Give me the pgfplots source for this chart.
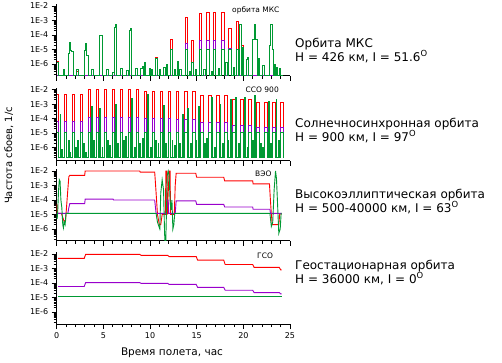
\documentclass[border=0pt]{standalone}
\usepackage{fontspec}
\setmainfont{DejaVu Sans}
\usepackage{pgfplots}
\pgfplotsset{compat=1.18}
\definecolor{cred}{RGB}{255,0,0}
\definecolor{cpur}{RGB}{153,0,204}
\definecolor{cgrn}{RGB}{0,153,51}
\pgfplotsset{
 mypanel/.style={
  scale only axis, width=233.3bp, height=72bp,
  anchor=south west,
  xmin=0, xmax=25, ymin=1.5e-7, ymax=1.38e-2,
  axis x line*=bottom, axis y line*=left,
  axis line style={line width=1bp,-},
  tick align=outside,
  major tick length=5bp, minor tick length=3bp,
  every tick/.style={black, line width=0.8bp},
  xtick={0,5,10,15,20,25},
  minor xtick={1,2,3,4,6,7,8,9,11,12,13,14,16,17,18,19,21,22,23,24},
  xticklabels={},
  ytick={1e-6,1e-5,1e-4,1e-3,1e-2},
  yticklabels={\mbox{1E-6},\mbox{1E-5},\mbox{1E-4},\mbox{1E-3},\mbox{1E-2}},
  minor ytick={2e-7,3e-7,4e-7,5e-7,6e-7,7e-7,8e-7,9e-7,
   2e-6,3e-6,4e-6,5e-6,6e-6,7e-6,8e-6,9e-6,
   2e-5,3e-5,4e-5,5e-5,6e-5,7e-5,8e-5,9e-5,
   2e-4,3e-4,4e-4,5e-4,6e-4,7e-4,8e-4,9e-4,
   2e-3,3e-3,4e-3,5e-3,6e-3,7e-3,8e-3,9e-3},
  tick label style={font=\fontsize{8bp}{9bp}\selectfont},
  every axis plot/.append style={line width=0.9bp},
 }
}
\begin{document}
\begin{tikzpicture}
\fill[white] (0,0) rectangle (502bp,363bp);
\path[use as bounding box] (0,0) rectangle (502bp,363bp);
% ---------- Panel 1: ISS ----------
\begin{axis}[ymode=log, mypanel, at={(56.7bp,287bp)}]
\addplot[cred, const plot] coordinates {(0,1.4e-6)(0.15,1.7e-7)(2.15,3e-7)(2.3,1.7e-7)(10.6,3e-6)(10.78,1.7e-7)(12.15,5e-5)(12.38,1.7e-7)(12.9,1.5e-6)(13.05,1.7e-7)(13.8,1.6e-3)(14.05,1.7e-7)(14.45,4e-5)(14.62,1.7e-7)(15.3,3e-3)(15.55,1.7e-7)(16.1,3.5e-3)(16.35,1.7e-7)(16.8,3.4e-3)(17.05,1.7e-7)(17.7,3.5e-3)(17.95,1.7e-7)(18.45,2.9e-4)(18.7,1.7e-7)(19.25,9e-4)(19.5,1.7e-7)(19.85,2e-5)(20.05,1.7e-7)(24.3,1.7e-7)};
\addplot[cpur, const plot] coordinates {(0,1.7e-7)(13.8,2.7e-5)(14.05,1.7e-7)(15.3,4.5e-5)(15.55,1.7e-7)(16.1,4.5e-5)(16.35,1.7e-7)(16.8,4.5e-5)(17.05,1.7e-7)(17.7,4.5e-5)(17.95,1.7e-7)(18.45,1.2e-5)(18.7,1.7e-7)(24.3,1.7e-7)};
\addplot[cgrn, const plot] coordinates {(0,1.2e-6)(0.15,1.7e-7)(0.68,4e-7)(0.86,1.7e-7)(1.29,5.5e-6)(1.36,3e-5)(1.45,8e-6)(1.55,7e-6)(1.75,1.7e-7)(2.1,4e-7)(2.3,1.7e-7)(3.0,9e-6)(3.1,2.6e-5)(3.2,4e-6)(3.35,1.7e-7)(3.7,4e-7)(3.9,1.7e-7)(4.6,1e-4)(4.85,1.7e-7)(5.3,4e-7)(5.5,1.7e-7)(6.0,2.5e-7)(6.15,1.7e-7)(6.2,3.5e-4)(6.3,5e-4)(6.45,1.7e-7)(6.8,5e-7)(7.0,1.7e-7)(7.5,3.5e-7)(7.65,1.7e-7)(7.8,2e-4)(7.9,2.7e-4)(8.05,1.7e-7)(8.4,5e-7)(8.6,1.7e-7)(9.0,5e-7)(9.15,6.5e-7)(9.3,1.7e-7)(9.4,1.3e-6)(9.5,1.7e-7)(9.95,5e-7)(10.05,1.7e-7)(10.2,4e-7)(10.3,1.7e-7)(10.6,2.5e-6)(10.78,1.7e-7)(11.0,4e-7)(11.1,1.7e-7)(11.4,6e-7)(11.6,1.7e-7)(11.8,1e-6)(11.9,1.7e-7)(12.15,1e-5)(12.38,1.7e-7)(12.66,4e-7)(12.77,1.7e-7)(12.9,1.4e-6)(13.05,1.7e-7)(13.2,4e-7)(13.35,1.7e-7)(13.8,1e-5)(14.05,1.7e-7)(14.2,3e-7)(14.3,1.7e-7)(14.45,1.3e-6)(14.62,1.7e-7)(14.85,4e-7)(14.95,1.7e-7)(15.3,1e-5)(15.55,1.7e-7)(15.75,4e-7)(15.9,1.7e-7)(16.1,1e-5)(16.35,1.7e-7)(16.55,3e-7)(16.65,1.7e-7)(16.8,1e-5)(17.05,1.7e-7)(17.3,5e-7)(17.4,1.7e-7)(17.7,1e-5)(17.95,1.7e-7)(18.1,1.3e-6)(18.25,1.7e-7)(18.45,1e-5)(18.7,1.7e-7)(18.9,6e-7)(19.0,1.7e-7)(19.25,1e-5)(19.5,1.7e-7)(19.6,5e-4)(19.75,1.7e-7)(19.9,1.5e-5)(20.05,1.7e-7)(20.35,2e-6)(20.45,3e-6)(20.6,1.7e-7)(21.0,4.6e-5)(21.2,5e-4)(21.35,4.6e-5)(21.5,1.7e-7)(21.65,2.5e-6)(21.75,1.7e-7)(22.1,8e-7)(22.25,1.7e-7)(22.8,2e-5)(22.95,5e-4)(23.1,1e-5)(23.2,1.7e-7)(23.35,1e-6)(23.45,1.7e-7)(23.6,6e-7)(23.7,1.7e-7)(23.85,5e-7)(24.0,1.7e-7)(24.3,1.7e-7)};
\end{axis}
% ---------- Panel 2: SSO 900 ----------
\begin{axis}[ymode=log, mypanel, at={(56.7bp,202bp)}, ymin=1.2e-7, height=73.4bp]
\addplot[cred, const plot] coordinates {(0,4.5e-3)(0.2,2e-7)(0.78,4.5e-3)(1.06,2e-7)(1.64,4.5e-3)(1.92,2e-7)(2.50,4.5e-3)(2.78,2e-7)(3.36,1e-2)(3.64,2e-7)(4.22,1e-2)(4.50,1.5e-6)(4.6,2e-7)(5.08,1e-2)(5.36,2e-7)(5.94,1e-2)(6.22,2e-7)(6.80,1e-2)(7.08,2e-7)(7.66,1e-2)(7.94,2e-7)(8.52,1e-2)(8.80,2e-7)(9.38,8e-3)(9.66,2e-7)(10.24,8e-3)(10.52,2e-7)(11.10,8e-3)(11.38,2e-7)(11.96,8e-3)(12.24,2e-7)(12.82,7e-3)(13.10,2e-7)(13.68,7e-3)(13.96,2e-7)(14.54,7e-3)(14.82,2e-7)(15.40,4e-3)(15.68,2e-7)(16.26,4e-3)(16.54,2e-7)(17.12,4e-3)(17.40,2e-7)(17.98,4e-3)(18.26,2e-7)(18.84,2.1e-3)(19.12,2e-7)(19.70,2.1e-3)(19.98,2e-7)(20.56,2.1e-3)(20.84,2e-7)(21.42,1.4e-3)(21.70,2e-7)(22.28,1.4e-3)(22.56,2e-7)(23.14,1.4e-3)(23.42,2e-7)(24.00,1.4e-3)(24.28,2e-7)};
\addplot[cpur, const plot] coordinates {(0,6e-5)(0.2,2e-7)(0.78,6e-5)(1.06,2e-7)(1.64,6e-5)(1.92,2e-7)(2.50,6e-5)(2.78,2e-7)(3.36,1.15e-4)(3.64,2e-7)(4.22,1.15e-4)(4.50,2e-7)(5.08,1.15e-4)(5.36,2e-7)(5.94,1.15e-4)(6.22,2e-7)(6.80,1.15e-4)(7.08,2e-7)(7.66,1.15e-4)(7.94,2e-7)(8.52,1.15e-4)(8.80,2e-7)(9.38,1e-4)(9.66,2e-7)(10.24,1e-4)(10.52,2e-7)(11.10,1e-4)(11.38,2e-7)(11.96,1e-4)(12.24,2e-7)(12.82,9e-5)(13.10,2e-7)(13.68,9e-5)(13.96,2e-7)(14.54,9e-5)(14.82,2e-7)(15.40,5.5e-5)(15.68,2e-7)(16.26,5.5e-5)(16.54,2e-7)(17.12,5.5e-5)(17.40,2e-7)(17.98,5.5e-5)(18.26,2e-7)(18.84,3.5e-5)(19.12,2e-7)(19.70,3.5e-5)(19.98,2e-7)(20.56,3.5e-5)(20.84,2e-7)(21.42,2.3e-5)(21.70,2e-7)(22.28,2.3e-5)(22.56,2e-7)(23.14,2.3e-5)(23.42,2e-7)(24.00,2.3e-5)(24.28,2e-7)};
\addplot[cgrn, const plot] coordinates {(0,1.1e-5)(0.20,2e-7)(0.35,2e-4)(0.45,2e-7)(0.55,8e-7)(0.65,2e-7)(0.78,1.1e-5)(1.06,2e-7)(1.25,3e-6)(1.35,2e-7)(1.45,5e-7)(1.52,2e-7)(1.64,1.1e-5)(1.92,2e-7)(2.05,1e-6)(2.12,2e-7)(2.25,3e-6)(2.35,2e-7)(2.50,1.1e-5)(2.78,2e-7)(2.9,2e-6)(3.0,2e-7)(3.1,5e-7)(3.2,2e-7)(3.36,1.1e-5)(3.64,2e-7)(3.72,7e-4)(3.82,2e-7)(3.95,3e-6)(4.05,2e-7)(4.22,1.1e-5)(4.50,2e-7)(4.58,5e-4)(4.68,2e-7)(4.85,1e-6)(4.95,2e-7)(5.08,1.1e-5)(5.36,2e-7)(5.45,3e-6)(5.55,2e-7)(5.7,1.5e-6)(5.8,2e-7)(5.94,1.1e-5)(6.22,2e-7)(6.3,1e-3)(6.4,2e-7)(6.55,2e-6)(6.62,2e-7)(6.80,1.1e-5)(7.08,2e-7)(7.2,3e-6)(7.28,2e-7)(7.4,6e-6)(7.5,2e-7)(7.66,1.1e-5)(7.94,2e-7)(8.0,2.5e-3)(8.1,2e-7)(8.3,1e-6)(8.4,2e-7)(8.52,1.1e-5)(8.80,2e-7)(8.9,2e-6)(9.0,2e-7)(9.15,4e-6)(9.25,2e-7)(9.38,1.1e-5)(9.66,2e-7)(9.72,5e-3)(9.82,2e-7)(10.0,1e-6)(10.1,2e-7)(10.24,1.1e-5)(10.52,2e-7)(10.6,3e-6)(10.7,2e-7)(10.85,2e-6)(10.95,2e-7)(11.10,1.1e-5)(11.38,2e-7)(11.45,8e-4)(11.55,2e-7)(11.7,2e-6)(11.8,2e-7)(11.96,1.1e-5)(12.24,2e-7)(12.35,3e-6)(12.45,2e-7)(12.6,1.5e-6)(12.7,2e-7)(12.82,1.1e-5)(13.10,2e-7)(13.2,2e-6)(13.3,2e-7)(13.45,2e-4)(13.55,2e-7)(13.68,1.1e-5)(13.96,2e-7)(14.05,5e-4)(14.15,2e-7)(14.35,2e-6)(14.45,2e-7)(14.54,1.1e-5)(14.82,2e-7)(14.9,3e-6)(15.0,2e-7)(15.15,7e-4)(15.25,2e-7)(15.40,1.1e-5)(15.68,2e-7)(15.8,2e-6)(15.9,2e-7)(16.05,4e-6)(16.15,2e-7)(16.26,1.1e-5)(16.54,2e-7)(16.6,3e-3)(16.7,2e-7)(16.9,1e-6)(17.0,2e-7)(17.12,1.1e-5)(17.40,2e-7)(17.5,1e-3)(17.6,2e-7)(17.8,2e-6)(17.9,2e-7)(17.98,1.1e-5)(18.26,2e-7)(18.35,3e-6)(18.45,2e-7)(18.6,2e-3)(18.7,2e-7)(18.84,1.1e-5)(19.12,2e-7)(19.2,3e-3)(19.3,2e-7)(19.5,2e-6)(19.6,2e-7)(19.70,1.1e-5)(19.98,2e-7)(20.1,3e-3)(20.2,2e-7)(20.4,1e-6)(20.48,2e-7)(20.56,1.1e-5)(20.84,2e-7)(20.95,3e-6)(21.05,2e-7)(21.2,4e-3)(21.3,2e-7)(21.42,1.1e-5)(21.70,2e-7)(21.8,2e-6)(21.9,2e-7)(22.05,1e-6)(22.15,2e-7)(22.28,1.1e-5)(22.56,2e-7)(22.65,1.5e-3)(22.75,2e-7)(22.95,2e-6)(23.05,2e-7)(23.14,1.1e-5)(23.42,2e-7)(23.5,2e-3)(23.6,2e-7)(23.8,3e-6)(23.9,2e-7)(24.00,1.1e-5)(24.28,2e-7)};
\end{axis}
% ---------- Panel 3: HEO ----------
\begin{axis}[ymode=log, mypanel, at={(56.7bp,122bp)}]
\addplot[cred] coordinates {(0,1.2e-5)(0.04,5e-5)(0.08,1.2e-5)(0.5,1.2e-5)(0.8,3.4e-6)(0.95,4e-6)(1.05,3e-5)(1.2,6e-4)(1.3,4e-3)(1.4,5e-3)(3.0,5e-3)(3.05,1e-2)(8.9,1e-2)(8.95,8.5e-3)(10.5,8.5e-3)(10.6,1e-3)(10.7,1e-4)(10.8,1e-5)(11.0,2e-6)(11.15,2e-6)(11.3,1e-5)(11.65,1e-5)(11.7,1e-2)(11.8,1e-2)(11.85,1e-5)(12.05,1e-2)(12.15,1e-2)(12.2,1e-5)(12.6,1e-5)(12.7,1e-3)(12.8,7e-3)(14.9,7e-3)(15.0,3.7e-3)(17.9,3.7e-3)(18.0,2.1e-3)(21.0,2.1e-3)(21.05,1.3e-3)(22.8,1.3e-3)(22.9,1e-4)(23.0,1.1e-5)(23.1,2e-6)(23.8,2e-6)(23.9,1.1e-5)(24.1,1.1e-5)};
\addplot[cpur] coordinates {(0,1.2e-5)(1.2,1.2e-5)(1.3,3e-5)(1.4,5.6e-5)(3.0,5.6e-5)(3.05,1.15e-4)(6.05,1.15e-4)(6.1,1e-4)(10.5,1e-4)(10.55,5e-5)(10.65,1.2e-5)(11.75,1.2e-5)(11.8,1e-4)(11.95,1e-4)(12.0,1.2e-5)(12.7,1.2e-5)(12.8,8.7e-5)(14.9,8.7e-5)(15.0,5e-5)(17.9,5e-5)(18.0,3.3e-5)(21.0,3.3e-5)(21.05,2.3e-5)(22.85,2.3e-5)(22.9,1.2e-5)(24.1,1.2e-5)};
\addplot[cgrn] coordinates {(0,1.2e-5)(0.05,5e-6)(0.1,1.2e-5)(0.2,5e-4)(0.28,2.5e-3)(0.36,2e-3)(0.45,1e-4)(0.55,3e-5)(0.65,2e-6)(0.72,1.2e-6)(0.8,3e-6)(0.9,2e-6)(1.0,1.2e-5)(10.65,1.2e-5)(10.8,3e-6)(10.95,1.5e-6)(11.05,1e-6)(11.15,3e-4)(11.3,2.5e-3)(11.45,5e-4)(11.55,1e-6)(11.65,1e-8)(11.85,5e-3)(11.95,1e-2)(12.05,5e-3)(12.15,1e-4)(12.25,2e-5)(12.35,1e-4)(12.45,1e-6)(12.55,2e-6)(12.65,1.2e-5)(22.85,1.2e-5)(23.0,1.5e-6)(23.15,3e-6)(23.3,5e-4)(23.45,1e-2)(23.55,3e-3)(23.65,1e-4)(23.8,5e-7)(23.95,1e-6)(24.05,1.2e-5)(24.1,1.2e-5)};
\end{axis}
% ---------- Panel 4: GEO ----------
\begin{axis}[ymode=log, mypanel, at={(56.7bp,39bp)},
  xticklabels={\mbox{0},\mbox{5},\mbox{10},\mbox{15},\mbox{20},\mbox{25}}]
\addplot[cred] coordinates {(0.15,5e-3)(2.95,5e-3)(3.1,9.5e-3)(8.9,9.5e-3)(9.05,8e-3)(11.9,8e-3)(12.05,6.7e-3)(14.95,6.7e-3)(15.1,3.8e-3)(17.9,3.8e-3)(18.05,1.9e-3)(21.0,1.9e-3)(21.15,1.2e-3)(23.85,1.2e-3)(24.0,8e-4)(24.1,8e-4)};
\addplot[cpur] coordinates {(0.15,5.8e-5)(2.95,5.8e-5)(3.1,1.07e-4)(8.9,1.07e-4)(9.05,9.5e-5)(11.9,9.5e-5)(12.05,8e-5)(14.95,8e-5)(15.1,5e-5)(17.9,5e-5)(18.05,3.2e-5)(21.0,3.2e-5)(21.15,2.2e-5)(23.85,2.2e-5)(24.0,1.8e-5)(24.1,1.8e-5)};
\addplot[cgrn] coordinates {(0.15,1.2e-5)(24.1,1.2e-5)};
\end{axis}
% ---------- texts ----------
\begin{scope}[every node/.style={inner sep=0pt}]
\node[anchor=base west, font=\fontsize{7.5bp}{9bp}\selectfont] at (232bp,350bp) {орбита МКС};
\node[anchor=base east, font=\fontsize{7.5bp}{9bp}\selectfont] at (279bp,270.7bp) {ССО 900};
\node[anchor=base west, font=\fontsize{7.5bp}{9bp}\selectfont] at (255bp,186bp) {ВЭО};
\node[anchor=base west, font=\fontsize{7.5bp}{9bp}\selectfont] at (257bp,104.7bp) {ГСО};
\node[anchor=base west, font=\fontsize{12bp}{14bp}\selectfont] at (295bp,315bp) {Орбита МКС};
\node[anchor=base west, font=\fontsize{12bp}{14bp}\selectfont] at (295bp,301.7bp) {H = 426 км, I = 51.6\textsuperscript{O}};
\node[anchor=base west, font=\fontsize{12bp}{14bp}\selectfont] at (295bp,235bp) {Солнечносинхронная орбита};
\node[anchor=base west, font=\fontsize{12bp}{14bp}\selectfont] at (295bp,221.7bp) {H = 900 км, I = 97\textsuperscript{O}};
\node[anchor=base west, font=\fontsize{12bp}{14bp}\selectfont] at (295bp,164bp) {Высокоэллиптическая орбита};
\node[anchor=base west, font=\fontsize{12bp}{14bp}\selectfont] at (295bp,150.7bp) {H = 500-40000 км, I = 63\textsuperscript{O}};
\node[anchor=base west, font=\fontsize{12bp}{14bp}\selectfont] at (295bp,93bp) {Геостационарная орбита};
\node[anchor=base west, font=\fontsize{12bp}{14bp}\selectfont] at (295bp,79.7bp) {H = 36000 км, I = 0\textsuperscript{O}};
\node[anchor=base, font=\fontsize{10.5bp}{12bp}\selectfont] at (172bp,8bp) {Время полета, час};
\node[anchor=base, rotate=90, font=\fontsize{10bp}{12bp}\selectfont] at (12bp,207.5bp) {Частота сбоев, 1/с};
\end{scope}
\end{tikzpicture}
\end{document}
